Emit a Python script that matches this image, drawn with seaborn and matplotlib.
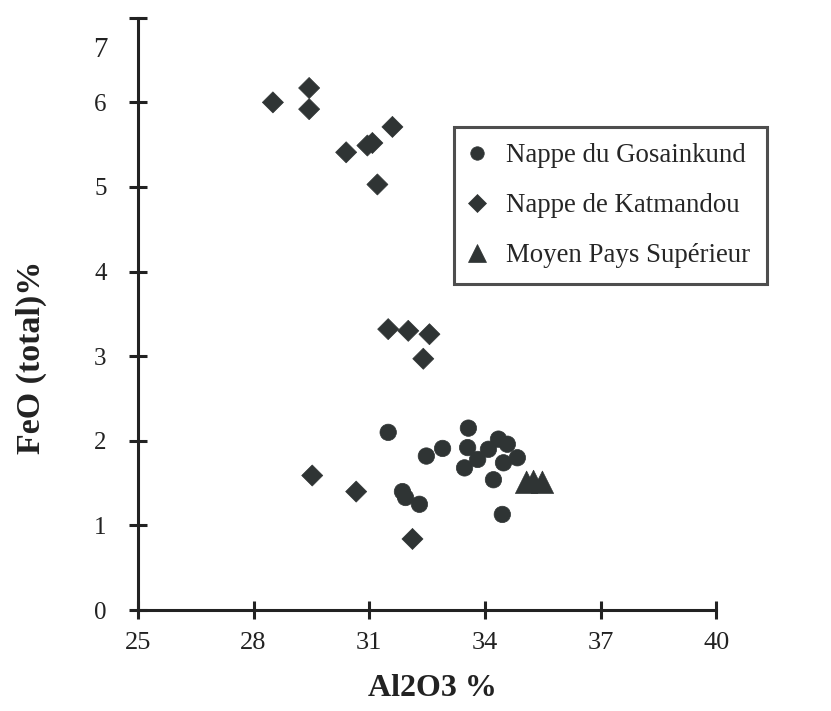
import seaborn as sns
import matplotlib.pyplot as plt
import pandas as pd

# valeurs (Al2O3 %, FeO total %)
gosainkund_al2o3 = [31.49, 32.48, 32.90, 33.57, 33.55, 33.47, 33.81, 34.09, 34.35,
                    34.58, 34.48, 34.84, 34.22, 34.45, 31.86, 31.94, 32.30]
gosainkund_feo = [2.10, 1.82, 1.91, 2.15, 1.92, 1.68, 1.78, 1.90, 2.02,
                  1.96, 1.74, 1.80, 1.54, 1.13, 1.40, 1.33, 1.25]

katmandou_al2o3 = [28.50, 29.44, 29.44, 30.40, 30.95, 31.08, 31.60, 31.21,
                   31.49, 32.01, 32.56, 32.40, 29.52, 30.66, 32.12]
katmandou_feo = [6.00, 6.17, 5.92, 5.41, 5.49, 5.52, 5.71, 5.03,
                 3.32, 3.30, 3.26, 2.97, 1.59, 1.40, 0.84]

moyen_pays_al2o3 = [35.08, 35.26, 35.49]
moyen_pays_feo = [1.51, 1.52, 1.51]

groupes = ['Nappe du Gosainkund', 'Nappe de Katmandou', 'Moyen Pays Supérieur']

x_ticks = [25, 28, 31, 34, 37, 40]
y_ticks = [0, 1, 2, 3, 4, 5, 6, 7]

# dataframe
df = pd.DataFrame({
    'Al2O3': gosainkund_al2o3 + katmandou_al2o3 + moyen_pays_al2o3,
    'FeO': gosainkund_feo + katmandou_feo + moyen_pays_feo,
    'groupe': [groupes[0]] * len(gosainkund_al2o3)
              + [groupes[1]] * len(katmandou_al2o3)
              + [groupes[2]] * len(moyen_pays_al2o3),
})

sns.set_style('white')
plt.rcParams['font.family'] = ['Liberation Serif', 'DejaVu Serif']

couleur = '#2f3434'
noir = '#222222'
fig = plt.figure(figsize=(8.31, 7.11), dpi=100)
ax = fig.add_axes([0.166, 0.142, 0.696, 0.833])

sns.scatterplot(data=df, x='Al2O3', y='FeO',
                hue='groupe', style='groupe', size='groupe',
                hue_order=groupes, style_order=groupes, size_order=groupes,
                palette={g: couleur for g in groupes},
                markers={groupes[0]: 'o', groupes[1]: 'D', groupes[2]: '^'},
                sizes={groupes[0]: 140, groupes[1]: 115, groupes[2]: 260},
                edgecolor=couleur, linewidth=0.5, alpha=1,
                ax=ax)

ax.set_xlim(25, 40)
ax.set_ylim(0, 7)
ax.set_xticks(x_ticks)
ax.set_xticklabels([str(t) for t in x_ticks], fontsize=19)
ax.set_yticks(y_ticks)
ax.set_yticklabels([str(t) for t in y_ticks[:-1]] + [''], fontsize=18)
# le "7" est décalé vers le bas sur l'original
ax.annotate('7', xy=(0, 6.62), xycoords=('axes fraction', 'data'),
            xytext=(-22, 0), textcoords='offset points',
            ha='right', va='center', fontsize=21, color=noir)

for side in ['top', 'right']:
    ax.spines[side].set_visible(False)
for side in ['left', 'bottom']:
    ax.spines[side].set_linewidth(2.2)
    ax.spines[side].set_color(noir)
ax.tick_params(axis='both', direction='inout', length=13, width=2.2,
               bottom=True, left=True, colors=noir, labelcolor=noir)
ax.tick_params(axis='x', pad=9)
ax.tick_params(axis='y', pad=16)

ax.set_xlabel('Al2O3 %', fontsize=23, fontweight='bold', color=noir)
ax.set_ylabel('FeO (total)%', fontsize=24.5, fontweight='bold', color=noir)
ax.xaxis.set_label_coords(0.509, -0.108)
ax.yaxis.set_label_coords(-0.157, 0.427)

handles, labels = ax.get_legend_handles_labels()
leg = ax.legend(handles, labels, loc='upper left',
                bbox_to_anchor=(0.546, 0.821), bbox_transform=fig.transFigure,
                frameon=True, fancybox=False, fontsize=19.4,
                handlelength=0.5, handletextpad=0.85, labelspacing=0.92,
                borderpad=0.6, borderaxespad=0, markerscale=0.82)
leg.get_frame().set_edgecolor(noir)
leg.get_frame().set_linewidth(2.2)

fig.savefig('out.png', dpi=100)
